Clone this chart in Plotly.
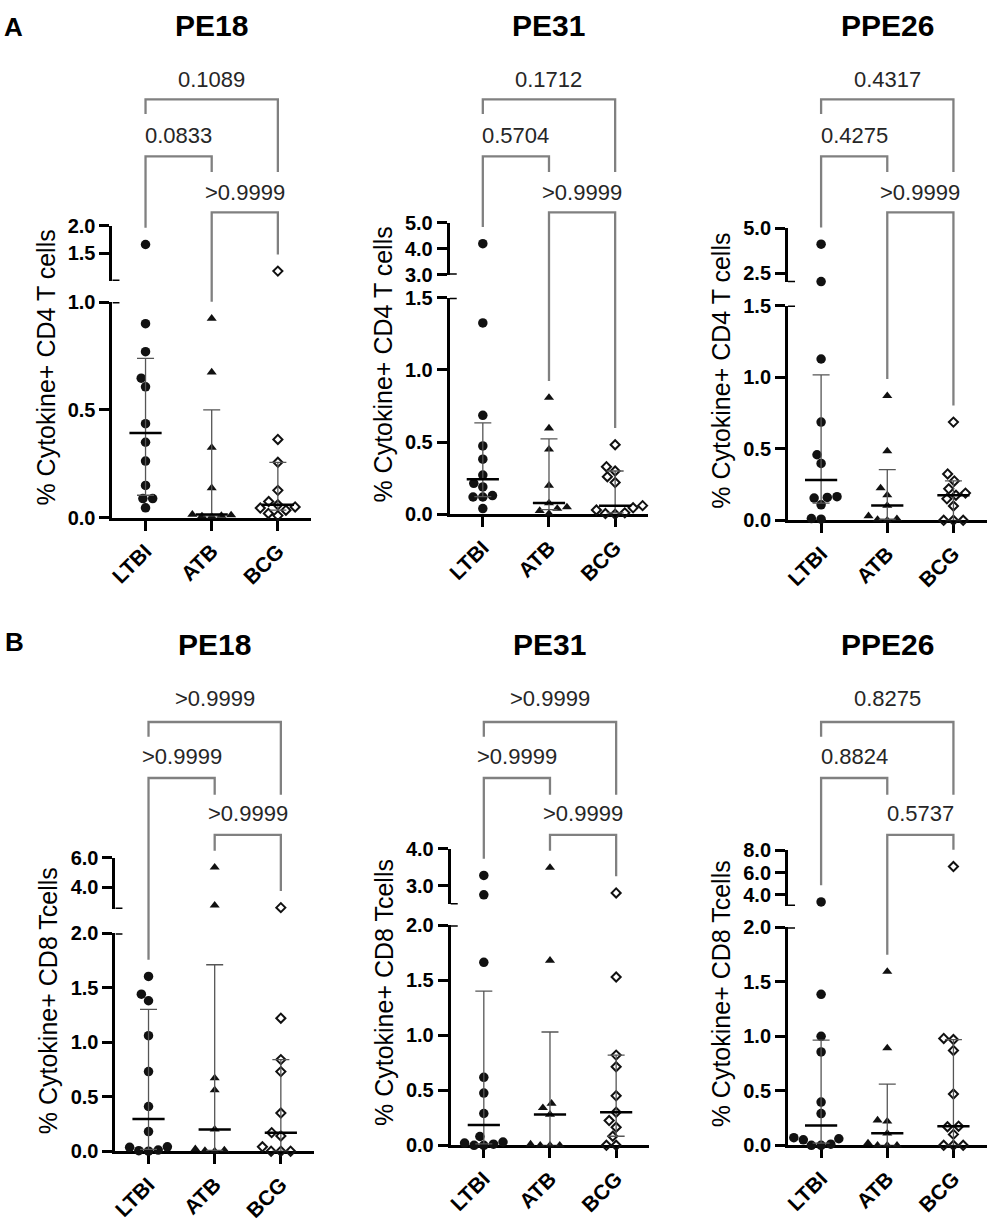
import numpy as np
import plotly.graph_objects as go

W, H = 989, 1227

groups = ["LTBI", "ATB", "BCG"]
antigens = ["PE18", "PE31", "PPE26"]
row_letters = ["A", "B"]
ytitles = ["% Cytokine+ CD4 T cells", "% Cytokine+ CD8 Tcells"]

# --- values (% cytokine+ cells) ---
cd4_pe18_ltbi = [1.66, 0.90, 0.77, 0.647, 0.607, 0.436, 0.35, 0.263, 0.15, 0.089, 0.089, 0.046]
cd4_pe18_atb = [0.924, 0.675, 0.325, 0.138, 0.015, 0.012, 0.01, 0.008, 0.005]
cd4_pe18_bcg = [1.18, 0.363, 0.257, 0.127, 0.075, 0.06, 0.05, 0.045, 0.035, 0.02, 0.01]

cd4_pe31_ltbi = [4.19, 1.326, 0.686, 0.474, 0.382, 0.272, 0.215, 0.19, 0.13, 0.12, 0.12, 0.04]
cd4_pe31_atb = [0.808, 0.596, 0.45, 0.2, 0.078, 0.05, 0.04, 0.025, 0.005]
cd4_pe31_bcg = [0.482, 0.33, 0.30, 0.26, 0.22, 0.06, 0.045, 0.03, 0.01, 0.005, 0.0]

cd4_ppe26_ltbi = [4.12, 2.03, 1.127, 0.686, 0.458, 0.397, 0.165, 0.16, 0.155, 0.108, 0.012, 0.008]
cd4_ppe26_atb = [0.87, 0.483, 0.225, 0.176, 0.103, 0.03, 0.01, 0.005, 0.0]
cd4_ppe26_bcg = [0.686, 0.324, 0.275, 0.22, 0.19, 0.175, 0.15, 0.1, 0.0, 0.0, 0.0]

cd8_pe18_ltbi = [1.603, 1.44, 1.38, 1.06, 0.73, 0.41, 0.18, 0.04, 0.035, 0.01, 0.005, 0.0]
cd8_pe18_atb = [5.33, 2.75, 0.67, 0.56, 0.2, 0.02, 0.01, 0.005, 0.0]
cd8_pe18_bcg = [2.6, 1.22, 0.84, 0.73, 0.35, 0.17, 0.14, 0.04, 0.0, 0.0, 0.0]

cd8_pe31_ltbi = [3.28, 2.76, 1.664, 0.618, 0.475, 0.289, 0.08, 0.03, 0.02, 0.01, 0.0, 0.0]
cd8_pe31_atb = [3.49, 1.68, 0.38, 0.34, 0.28, 0.01, 0.0, 0.0, 0.0]
cd8_pe31_bcg = [2.81, 1.53, 0.82, 0.714, 0.45, 0.30, 0.225, 0.164, 0.082, 0.0, 0.0]

cd8_ppe26_ltbi = [3.36, 1.385, 1.0, 0.856, 0.396, 0.291, 0.07, 0.06, 0.05, 0.01, 0.0, 0.0]
cd8_ppe26_atb = [1.594, 0.892, 0.23, 0.22, 0.11, 0.02, 0.0, 0.0, 0.0]
cd8_ppe26_bcg = [6.55, 0.98, 0.97, 0.87, 0.47, 0.175, 0.17, 0.1, 0.0, 0.0, 0.0]

# p values: [LTBI vs BCG, LTBI vs ATB, ATB vs BCG]
pvals_cd4_pe18 = ["0.1089", "0.0833", ">0.9999"]
pvals_cd4_pe31 = ["0.1712", "0.5704", ">0.9999"]
pvals_cd4_ppe26 = ["0.4317", "0.4275", ">0.9999"]
pvals_cd8_pe18 = [">0.9999", ">0.9999", ">0.9999"]
pvals_cd8_pe31 = [">0.9999", ">0.9999", ">0.9999"]
pvals_cd8_ppe26 = ["0.8275", "0.8824", "0.5737"]

# broken y axis: lower segment / upper segment ranges and ticks
lower_ranges = [[0, 1.0], [0, 1.5], [0, 1.5], [0, 2.0], [0, 2.0], [0, 2.0]]
upper_ranges = [[1.0, 2.0], [3.0, 5.0], [2.0, 5.0], [2.5, 6.0], [2.5, 4.0], [3.0, 8.0]]
lower_ticks = [[0, 0.5, 1.0], [0, 0.5, 1.0, 1.5], [0, 0.5, 1.0, 1.5],
               [0, 0.5, 1.0, 1.5, 2.0], [0, 0.5, 1.0, 1.5, 2.0], [0, 0.5, 1.0, 1.5, 2.0]]
upper_ticks = [[1.5, 2.0], [3.0, 4.0, 5.0], [2.5, 5.0], [4.0, 6.0], [3.0, 4.0], [4.0, 6.0, 8.0]]

data = [
    [cd4_pe18_ltbi, cd4_pe18_atb, cd4_pe18_bcg],
    [cd4_pe31_ltbi, cd4_pe31_atb, cd4_pe31_bcg],
    [cd4_ppe26_ltbi, cd4_ppe26_atb, cd4_ppe26_bcg],
    [cd8_pe18_ltbi, cd8_pe18_atb, cd8_pe18_bcg],
    [cd8_pe31_ltbi, cd8_pe31_atb, cd8_pe31_bcg],
    [cd8_ppe26_ltbi, cd8_ppe26_atb, cd8_ppe26_bcg],
]
pvals = [pvals_cd4_pe18, pvals_cd4_pe31, pvals_cd4_ppe26,
         pvals_cd8_pe18, pvals_cd8_pe31, pvals_cd8_ppe26]

# --- layout in pixels ---
XW = 199.5  # x axis length
panels = [
    dict(x0=108, up=(218.6, 275.0), lo=(296.4, 516.0)),
    dict(x0=447, up=(215.4, 268.6), lo=(292.0, 512.5)),
    dict(x0=787, up=(221.4, 276.1), lo=(300.0, 518.6)),
    dict(x0=111, up=(862.0, 914.5), lo=(939.0, 1161.0)),
    dict(x0=448, up=(852.8, 909.8), lo=(931.0, 1155.0)),
    dict(x0=787, up=(854.8, 911.3), lo=(933.0, 1155.0)),
]
rows = [
    dict(title_y=15, letter=(9, 16), lines=(90, 148, 205), texts=(70, 127, 185)),
    dict(title_y=645, letter=(10, 643), lines=(724, 781, 839), texts=(700, 759, 817)),
]

FONT = "Liberation Sans, Arial, sans-serif"
symbols = ["circle", "triangle-up", "diamond-open"]
sizes = [9.5, 8.8, 7]
BR_COLOR = "#808080"


def ref(prefix, i):
    return prefix if i == 1 else f"{prefix}{i}"


def py(y):
    return 1 - y / H


def val_to_px(k, v):
    p = panels[k]
    lo, up = lower_ranges[k], upper_ranges[k]
    if v > lo[1]:
        return p["up"][0] + (up[1] - v) / (up[1] - up[0]) * (p["up"][1] - p["up"][0])
    return p["lo"][1] - (v - lo[0]) / (lo[1] - lo[0]) * (p["lo"][1] - p["lo"][0])


def swarm(ys, diam):
    # simple beeswarm: push overlapping points sideways, closest to centre first
    order = sorted(range(len(ys)), key=lambda i: -ys[i])
    placed, out = [], [0.0] * len(ys)
    for i in order:
        y = ys[i]
        cands = [0.0]
        for cx, cy in placed:
            dy = abs(y - cy)
            if dy < diam:
                dx = (diam ** 2 - dy ** 2) ** 0.5
                cands += [cx + dx, cx - dx]
        cands.sort(key=lambda c: (round(abs(c), 3), c))
        for c in cands:
            if all((c - cx) ** 2 + (y - cy) ** 2 >= diam ** 2 - 1e-6 for cx, cy in placed):
                out[i] = c
                break
        placed.append((out[i], y))
    return out


fig = go.Figure()
layout = {}
shapes = []
annotations = []

axis_common = dict(showline=True, linewidth=3, linecolor="black", ticks="outside",
                   ticklen=10, tickwidth=3, tickcolor="black", showgrid=False,
                   zeroline=False, layer="below traces", fixedrange=True)
yfont = dict(family=FONT, size=20, color="black", weight="bold")
xfont = dict(family=FONT, size=21, color="black", weight="bold")

for k, p in enumerate(panels):
    n, ylo, yup = k + 1, 2 * k + 1, 2 * k + 2
    xr, ylr, yur = ref("x", n), ref("y", ylo), ref("y", yup)
    row = rows[k // 3]
    spacing = XW / 3

    layout[ref("xaxis", n)] = dict(
        axis_common, domain=[p["x0"] / W, (p["x0"] + XW) / W], range=[-0.5, 2.5],
        anchor=ylr, tickvals=[0, 1, 2], ticktext=groups, tickangle=-45, tickfont=xfont)
    layout[ref("yaxis", ylo)] = dict(
        axis_common, domain=[py(p["lo"][1]), py(p["lo"][0])], range=lower_ranges[k],
        anchor=xr, tickvals=lower_ticks[k], tickformat=".1f", tickfont=yfont)
    layout[ref("yaxis", yup)] = dict(
        axis_common, domain=[py(p["up"][1]), py(p["up"][0])], range=upper_ranges[k],
        anchor=xr, tickvals=upper_ticks[k], tickformat=".1f", tickfont=yfont)

    # caps at the axis break
    shapes.append(dict(type="line", xref=xr, yref=yur, xsizemode="pixel", xanchor=-0.5,
                       x0=-9, x1=7, y0=upper_ranges[k][0], y1=upper_ranges[k][0],
                       line=dict(color="black", width=3)))
    shapes.append(dict(type="line", xref=xr, yref=ylr, xsizemode="pixel", xanchor=-0.5,
                       x0=0, x1=7, y0=lower_ranges[k][1], y1=lower_ranges[k][1],
                       line=dict(color="black", width=3)))

    for g, vals in enumerate(data[k]):
        vals = np.array(vals, dtype=float)
        ys = [val_to_px(k, v) for v in vals]
        offs = np.array(swarm(ys, 9.8)) / spacing
        is_up = vals > lower_ranges[k][1]
        mk = dict(symbol=symbols[g], size=sizes[g], color="#111111",
                  line=dict(width=2 if g == 2 else 0, color="#111111"))
        for mask, yref_ in ((~is_up, ylr), (is_up, yur)):
            if mask.any():
                fig.add_trace(go.Scatter(
                    x=g + offs[mask], y=vals[mask], mode="markers", marker=mk,
                    xaxis=xr, yaxis=yref_, cliponaxis=False, showlegend=False,
                    hoverinfo="skip"))
        q1, med, q3 = np.percentile(vals, [25, 50, 75], method="weibull")
        fig.add_trace(go.Scatter(
            x=[g], y=[med], mode="markers", xaxis=xr, yaxis=ylr, cliponaxis=False,
            marker=dict(symbol="line-ew", size=23, line=dict(width=2.5, color="black")),
            error_y=dict(type="data", symmetric=False, array=[q3 - med],
                         arrayminus=[med - q1], color="#555555", thickness=1.3, width=8.5),
            showlegend=False, hoverinfo="skip"))

    # significance brackets
    L1, L2, L3 = row["lines"]
    tops = [val_to_px(k, max(v)) - 17 for v in data[k]]
    right_leg = L3 - 41
    brackets = [(0, 2, L1, L1 + 15, right_leg),
                (0, 1, L2, tops[0], right_leg),
                (1, 2, L3, tops[1], tops[2])]
    for (a, b, yl, ya, yb), txt, ty in zip(brackets, pvals[k], row["texts"]):
        shapes.append(dict(type="path", xref=xr, yref="paper",
                           path=f"M {a},{py(ya)} L {a},{py(yl)} L {b},{py(yl)} L {b},{py(yb)}",
                           line=dict(color=BR_COLOR, width=2.3)))
        annotations.append(dict(text=txt, xref=xr, yref="paper", x=(a + b) / 2, y=py(ty),
                                showarrow=False, xanchor="center", yanchor="middle",
                                font=dict(family=FONT, size=22, color="#262626")))

    # panel title and y title
    annotations.append(dict(text=antigens[k % 3], xref="paper", yref="paper",
                            x=(p["x0"] + XW / 2) / W, y=py(row["title_y"]),
                            showarrow=False, xanchor="center", yanchor="middle",
                            font=dict(family=FONT, size=30, color="black", weight="bold")))
    annotations.append(dict(text=ytitles[k // 3], xref="paper", yref="paper",
                            x=(p["x0"] - 67) / W,
                            y=py((p["up"][0] + p["lo"][1]) / 2 - 4), textangle=-90,
                            showarrow=False, xanchor="center", yanchor="middle",
                            font=dict(family=FONT, size=25, color="black")))

for letter, row in zip(row_letters, rows):
    annotations.append(dict(text=letter, xref="paper", yref="paper",
                            x=row["letter"][0] / W, y=py(row["letter"][1]),
                            showarrow=False, xanchor="center", yanchor="middle",
                            font=dict(family=FONT, size=26, color="black", weight="bold")))

fig.update_layout(
    width=W, height=H, margin=dict(l=0, r=0, t=0, b=0),
    paper_bgcolor="white", plot_bgcolor="white",
    shapes=shapes, annotations=annotations, **layout)

fig.write_html("out.html", config={"displayModeBar": False},
               post_script="document.body.style.margin='0';")
